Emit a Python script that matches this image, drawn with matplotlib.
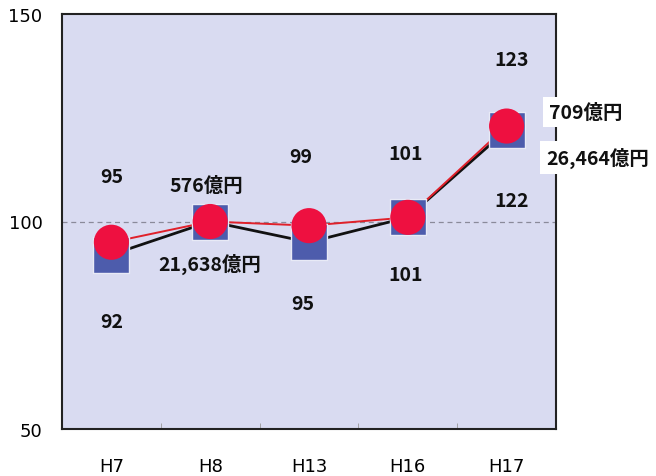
import matplotlib
matplotlib.use("Agg")
import matplotlib.pyplot as plt
import numpy as np

plt.rcParams['font.family'] = ['DejaVu Sans', 'Noto Sans CJK JP']

years = ["H7", "H8", "H13", "H16", "H17"]
red_vals = [95, 100, 99, 101, 123]     # red circles
blue_vals = [92, 100, 95, 101, 122]    # blue squares

red_labels = ["95", "576億円", "99", "101", "123"]
blue_labels = ["92", "21,638億円", "95", "101", "122"]
side_labels = ["709億円", "26,464億円"]

fig = plt.figure(figsize=(6.56, 4.77), dpi=100)
ax = fig.add_axes([62 / 656, 1 - 430 / 477, 494 / 656, 415 / 477])
ax.set_facecolor("#d9dbf1")

x = np.arange(len(years))
ax.axhline(100, color="#8a8a9a", lw=0.9, ls=(0, (4, 3)), zorder=1)

ax.plot(x, blue_vals, color="#111111", lw=2.0, zorder=2)
ax.plot(x, red_vals, color="#e0202a", lw=1.4, zorder=3)
ax.scatter(x, blue_vals, marker="s", s=650, color="#4d5cac",
           edgecolors="#e8eaf6", linewidths=1.0, zorder=4)
ax.scatter(x, red_vals, marker="o", s=640, color="#ee1040",
           edgecolors="none", zorder=5)

# value labels, offsets in pixels
red_off = [(0, 66), (-4, 36), (-8, 69), (-2, 64), (5, 67)]
blue_off = [(0, -67), (0, -42), (-6, -61), (-2, -57), (5, -70)]
pt = 72 / 100
lab = dict(textcoords="offset points", ha="center", va="center",
           fontsize=14, fontweight="bold", color="#111111", zorder=6,
           family=["Noto Sans CJK JP", "DejaVu Sans"])
for i in range(len(years)):
    dx, dy = red_off[i]
    ax.annotate(red_labels[i], (x[i], red_vals[i]),
                xytext=(dx * pt, dy * pt), **lab)
    dx, dy = blue_off[i]
    ax.annotate(blue_labels[i], (x[i], blue_vals[i]),
                xytext=(dx * pt, dy * pt), **lab)

# totals for H17, set beside the plot
box = dict(boxstyle="square,pad=0.3", fc="white", ec="none")
ax.annotate(side_labels[0], (x[-1], red_vals[-1]), xytext=(79 * pt, 14 * pt),
            annotation_clip=False, bbox=box, **lab)
ax.annotate(side_labels[1], (x[-1], blue_vals[-1]), xytext=(91 * pt, -27 * pt),
            annotation_clip=False, bbox=box, **lab)

ax.set_xlim(-0.5, len(years) - 0.5)
ax.set_ylim(50, 150)
ax.set_yticks([50, 100, 150])
ax.set_yticklabels(["50", "100", "150"], fontsize=13)
ax.tick_params(axis="y", length=0, pad=14)

ax.set_xticks(x)
ax.set_xticklabels(years, fontsize=13)
ax.tick_params(axis="x", length=0, pad=20)
ax.set_xticks(x[:-1] + 0.5, minor=True)
ax.tick_params(axis="x", which="minor", direction="in", length=4, color="#999999")

for s in ax.spines.values():
    s.set_color("#222222")
    s.set_linewidth(1.5)

fig.savefig("out.png", dpi=100)
